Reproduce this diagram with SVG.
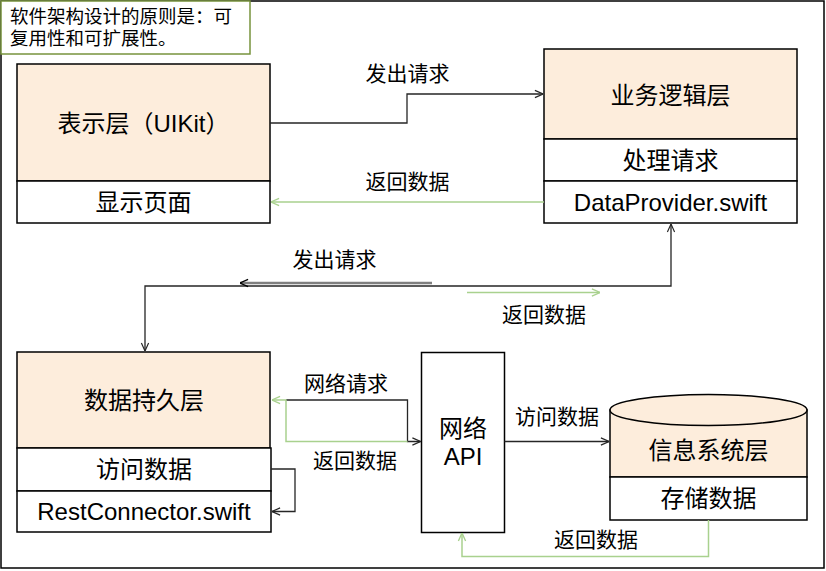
<svg xmlns="http://www.w3.org/2000/svg" width="826" height="571" viewBox="0 0 826 571">
<defs>
<style>
.box{fill:#FDEDDC;stroke:#000;stroke-width:1.5}
.row{fill:#fff;stroke:#000;stroke-width:1.5}
.t{font-family:"Liberation Sans","Noto Sans CJK SC",sans-serif;font-size:24px;fill:#000;text-anchor:middle;dominant-baseline:central}
.lbl{font-family:"Liberation Sans","Noto Sans CJK SC",sans-serif;font-size:21px;fill:#000;text-anchor:middle;dominant-baseline:central}
.note{font-family:"Liberation Sans","Noto Sans CJK SC",sans-serif;font-size:18.5px;fill:#000;dominant-baseline:central}
.blk{fill:none;stroke:#262626;stroke-width:1.3}
.grn{fill:none;stroke:#A9D18E;stroke-width:1.5}
.gry{fill:none;stroke:#7F7F7F;stroke-width:2.5}
</style>
<marker id="ab" viewBox="0 0 10 10" refX="10" refY="5" markerWidth="9" markerHeight="10" markerUnits="userSpaceOnUse" orient="auto-start-reverse"><path d="M1,1 L10,5 L1,9" fill="none" stroke="#262626" stroke-width="1.3"/></marker>
<marker id="ag" viewBox="0 0 10 10" refX="10" refY="5" markerWidth="9" markerHeight="10" markerUnits="userSpaceOnUse" orient="auto-start-reverse"><path d="M1,1 L10,5 L1,9" fill="none" stroke="#A9D18E" stroke-width="1.5"/></marker>
<marker id="ay" viewBox="0 0 10 10" refX="10" refY="5" markerWidth="9" markerHeight="10" markerUnits="userSpaceOnUse" orient="auto-start-reverse"><path d="M1,1 L10,5 L1,9" fill="none" stroke="#000" stroke-width="1.5"/></marker>
</defs>
<rect x="0" y="0" width="826" height="571" fill="#fff"/>
<rect x="1" y="1" width="823" height="567" fill="none" stroke="#000" stroke-width="1.5"/>

<g id="note">
<rect x="1" y="1" width="249" height="53" fill="#fff" stroke="#77933C" stroke-width="1.5"/>
<text class="note" x="10" y="16">软件架构设计的原则是：可</text>
<text class="note" x="10" y="38">复用性和可扩展性。</text>
</g>

<g id="presentation">
<rect class="box" x="17" y="64" width="253" height="117"/>
<rect class="row" x="17" y="181" width="253" height="42"/>
<text class="t" x="143.5" y="123">表示层（UIKit）</text>
<text class="t" x="143.5" y="202">显示页面</text>
</g>

<g id="business">
<rect class="box" x="544" y="49" width="253" height="90"/>
<rect class="row" x="544" y="139" width="253" height="42"/>
<rect class="row" x="544" y="181" width="253" height="42"/>
<text class="t" x="670.5" y="95">业务逻辑层</text>
<text class="t" x="670.5" y="160">处理请求</text>
<text class="t" x="670.5" y="202">DataProvider.swift</text>
</g>

<g id="persistence">
<rect class="box" x="17" y="352" width="253" height="96"/>
<rect class="row" x="17" y="448" width="254" height="43"/>
<rect class="row" x="17" y="491" width="254" height="41"/>
<text class="t" x="144" y="400">数据持久层</text>
<text class="t" x="144" y="469">访问数据</text>
<text class="t" x="144" y="511">RestConnector.swift</text>
</g>

<g id="network">
<rect class="row" x="421.5" y="352.5" width="83" height="180"/>
<text class="t" x="463" y="428">网络</text>
<text class="t" x="463" y="456">API</text>
</g>

<g id="infosys">
<rect class="box" x="610" y="410" width="197" height="67"/>
<ellipse cx="708.5" cy="410" rx="98.5" ry="15.5" fill="#FDEDDC" stroke="#000" stroke-width="1.5"/>
<rect class="row" x="610" y="477" width="197" height="43"/>
<text class="t" x="708.5" y="450">信息系统层</text>
<text class="t" x="708.5" y="498">存储数据</text>
</g>

<g id="connectors">
<path class="blk" d="M270,123 H407 V94 H543" marker-end="url(#ab)"/>
<text class="lbl" x="407.5" y="73.5">发出请求</text>
<path class="grn" d="M544,202 H271" marker-end="url(#ag)"/>
<text class="lbl" x="407.5" y="181">返回数据</text>

<path class="blk" d="M671,224 V286 H145 V351" marker-start="url(#ab)" marker-end="url(#ab)"/>
<path class="gry" d="M432,283 H240" marker-end="url(#ay)"/>
<text class="lbl" x="334.5" y="259">发出请求</text>
<path class="grn" d="M467,292.5 H600" marker-end="url(#ag)"/>
<text class="lbl" x="544" y="314">返回数据</text>

<path class="blk" d="M286,400 H407.5 V441.5 H420.5" marker-end="url(#ab)"/>
<path class="grn" d="M407.5,441.5 H286 V400 H272" marker-end="url(#ag)"/>
<text class="lbl" x="346" y="383">网络请求</text>
<text class="lbl" x="355" y="460">返回数据</text>

<path class="blk" d="M271,469 H295 V511.5 H272" marker-end="url(#ab)"/>

<path class="blk" d="M504.5,441.5 H609" marker-end="url(#ab)"/>
<text class="lbl" x="557" y="416">访问数据</text>

<path class="grn" d="M708.5,520 V556.5 H462 V533" marker-end="url(#ag)"/>
<text class="lbl" x="596" y="539">返回数据</text>
</g>
</svg>
